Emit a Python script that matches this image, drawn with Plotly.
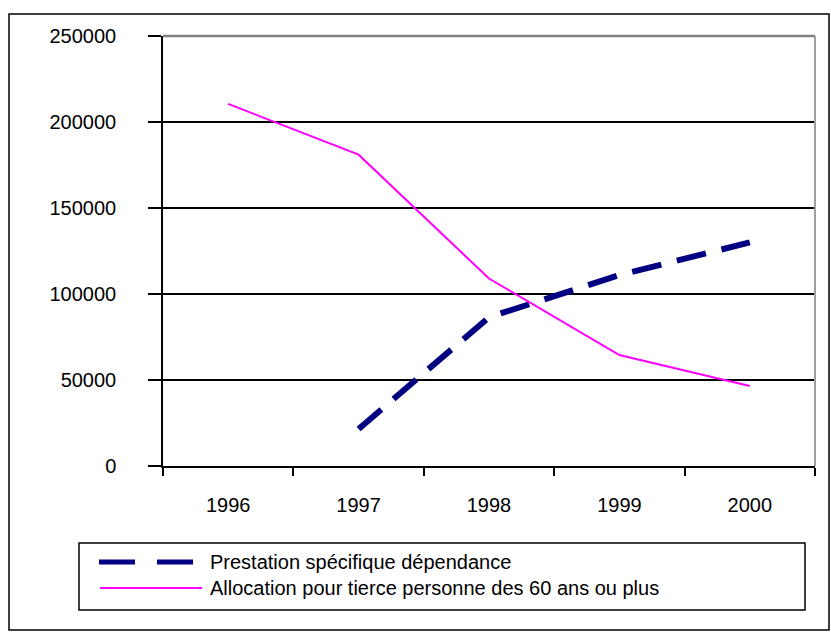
import plotly.graph_objects as go

years = [1996, 1997, 1998, 1999, 2000]
psd = [None, 21500, 86500, 111000, 130000]
apt = [210500, 181000, 109000, 64500, 46500]
y_ticks = [0, 50000, 100000, 150000, 200000, 250000]
series_names = ["Prestation spécifique dépendance",
                "Allocation pour tierce personne des 60 ans ou plus"]

W, H = 831, 632
L, R, T, B = 163, 815, 36, 466

def px(x):
    return (x - L) / (R - L)

def py(y):
    return (B - y) / (B - T)

FONT = "Liberation Sans, Arial, sans-serif"
FS = 20

fig = go.Figure()
fig.add_trace(go.Scatter(x=years, y=psd, mode="lines", name=series_names[0],
                         line=dict(color="#000080", width=6, dash="30px,16px"),
                         connectgaps=False, showlegend=False))
fig.add_trace(go.Scatter(x=years, y=apt, mode="lines", name=series_names[1],
                         line=dict(color="#FF00FF", width=2), showlegend=False))
# invisible trace to activate label axis
fig.add_trace(go.Scatter(x=years, y=[None]*5, xaxis="x2", showlegend=False,
                         hoverinfo="skip"))

bounds = [y - 0.5 for y in years] + [years[-1] + 0.5]

fig.update_layout(
    width=W, height=H,
    margin=dict(l=L, r=W - R, t=T, b=H - B, pad=0),
    paper_bgcolor="white", plot_bgcolor="white",
    font=dict(family=FONT, size=FS, color="black"),
    xaxis=dict(range=[bounds[0], bounds[-1]], tickvals=bounds,
               ticktext=[""] * len(bounds), ticks="outside", ticklen=8,
               tickwidth=1.5, tickcolor="black", showline=True,
               linecolor="black", linewidth=1.5, showgrid=False,
               zeroline=False, fixedrange=True),
    xaxis2=dict(range=[bounds[0], bounds[-1]], overlaying="x", side="bottom",
                tickvals=years, ticktext=[str(y) for y in years], ticks="",
                showline=False, showgrid=False, zeroline=False,
                ticklabelstandoff=25, tickfont=dict(size=FS)),
    yaxis=dict(range=[0, 250000], tickvals=y_ticks,
               ticktext=[str(v) for v in y_ticks], ticks="outside", ticklen=13,
               tickwidth=1.5, tickcolor="black", showline=True,
               linecolor="black", linewidth=1.5, showgrid=True,
               gridcolor="black", gridwidth=1.5, zeroline=False,
               ticklabelstandoff=28, tickfont=dict(size=FS)),
    showlegend=False,
)

shapes = [
    # plot area top / right border (gray)
    dict(type="line", xref="paper", yref="paper", x0=0, x1=1, y0=1, y1=1,
         line=dict(color="#808080", width=2.5), layer="above"),
    dict(type="line", xref="paper", yref="paper", x0=1, x1=1, y0=0, y1=1,
         line=dict(color="#A0A0A0", width=2), layer="above"),
    # outer chart border
    dict(type="rect", xref="paper", yref="paper", x0=px(9), x1=px(829),
         y0=py(630), y1=py(14), line=dict(color="black", width=1.5)),
    # legend box
    dict(type="rect", xref="paper", yref="paper", x0=px(79), x1=px(805),
         y0=py(610), y1=py(543), line=dict(color="black", width=1.5)),
    # legend samples
    dict(type="line", xref="paper", yref="paper", x0=px(99), x1=px(196),
         y0=py(562), y1=py(562),
         line=dict(color="#000080", width=5, dash="36px,22px")),
    dict(type="line", xref="paper", yref="paper", x0=px(100), x1=px(202),
         y0=py(588), y1=py(588), line=dict(color="#FF00FF", width=2)),
]
fig.update_layout(shapes=shapes)

for name, yy in zip(series_names, [562, 588]):
    fig.add_annotation(xref="paper", yref="paper", x=px(208), y=py(yy),
                       text=name, showarrow=False, xanchor="left",
                       yanchor="middle", font=dict(family=FONT, size=FS))

fig.write_html("out.html",
               config={"displayModeBar": False},
               post_script="document.body.style.margin='0';"
                           "document.body.style.padding='0';")
